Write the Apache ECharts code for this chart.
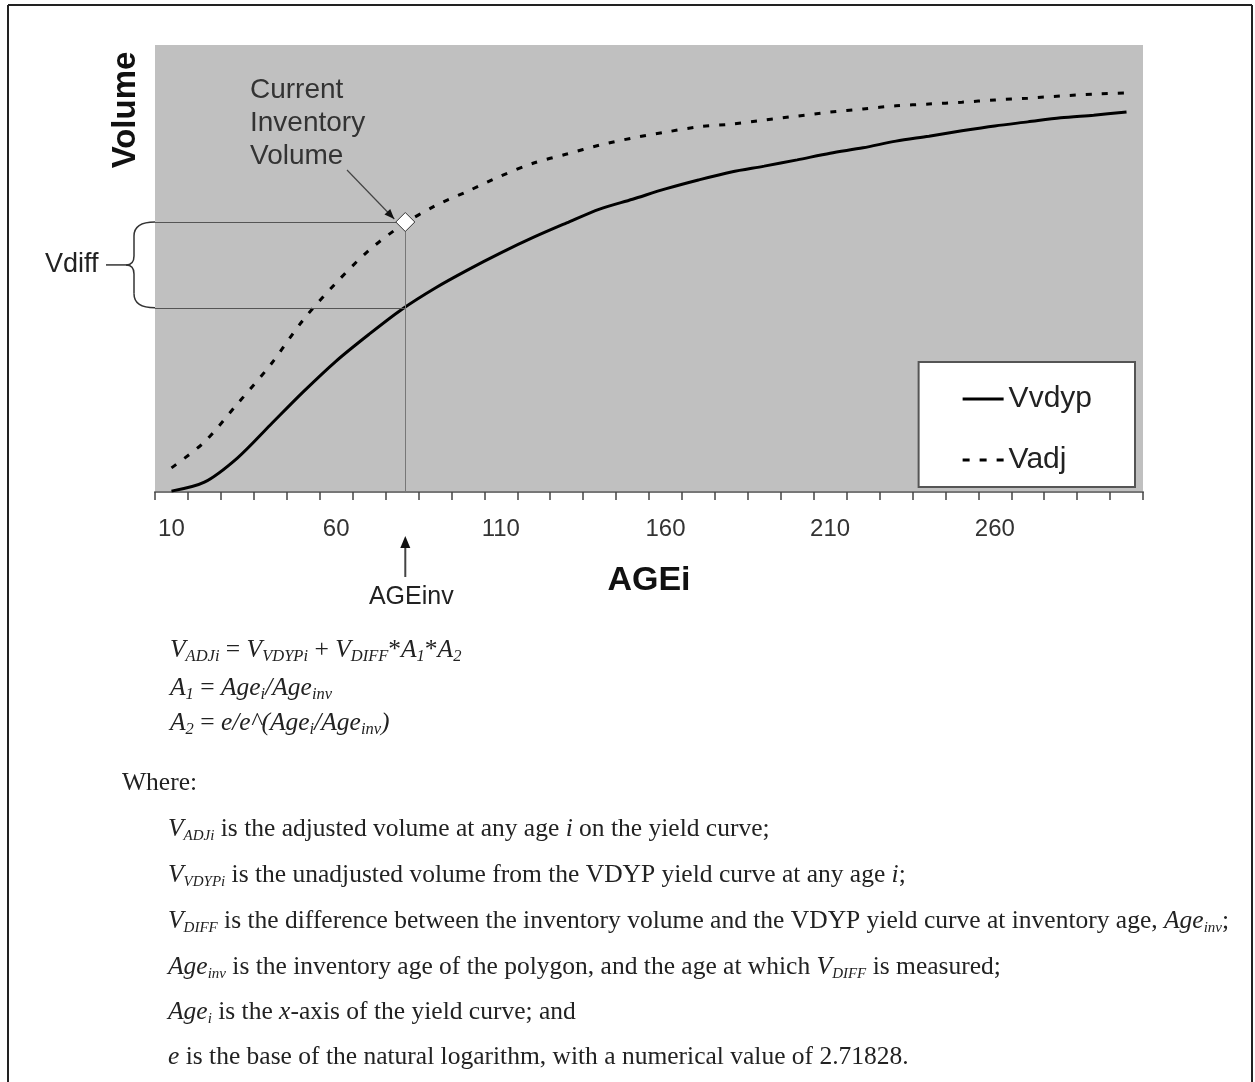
<!DOCTYPE html>
<html>
<head>
<meta charset="utf-8">
<script src="https://cdn.jsdelivr.net/npm/echarts@6/dist/echarts.min.js"></script>
<style>
  html, body { margin: 0; padding: 0; background: #fff; }
  #chart { width: 1255px; height: 1082px; }
</style>
</head>
<body>
<div id="chart"></div>
<script>
// Stand age (years) at which each volume is listed
const ages = [10, 20, 30, 40, 50, 60, 70, 80, 90, 100, 110, 120, 130, 140, 150,
              160, 170, 180, 190, 200, 210, 220, 230, 240, 250, 260, 270, 280, 290, 300];
// Unadjusted VDYP yield curve (relative volume)
const vvdyp = [0.2, 2.2, 7.6, 15.0, 22.4, 29.3, 35.3, 40.9, 45.6, 49.7, 53.5, 57.0, 60.2, 63.3, 65.5,
               67.8, 69.8, 71.6, 72.9, 74.3, 75.8, 77.0, 78.5, 79.6, 80.8, 81.9, 82.8, 83.7, 84.3, 85.0];
// Adjusted yield curve passing through the inventory volume
const vadj = [5.4, 11.2, 19.7, 28.4, 38.5, 46.8, 54.1, 59.7, 64.0, 67.3, 70.7, 73.6, 75.6, 77.6, 79.2,
              80.5, 81.7, 82.3, 83.2, 84.1, 85.0, 85.7, 86.4, 86.8, 87.2, 87.7, 88.1, 88.6, 89.0, 89.3];
// Axis ticks sit between the age classes; labels every fifth class
const tickAges = [5, 15, 25, 35, 45, 55, 65, 75, 85, 95, 105, 115, 125, 135, 145, 155,
                  165, 175, 185, 195, 205, 215, 225, 235, 245, 255, 265, 275, 285, 295, 305];
const labelAges = [10, 60, 110, 160, 210, 260];
// Inventory age and the two volumes read at that age
const invAge = 81;
const invVolume = 60.4;
const vdypAtInv = 41.2;

const SANS = 'Liberation Sans, Arial, sans-serif';
const SERIF = 'Liberation Serif, Times New Roman, serif';

const chart = echarts.init(document.getElementById('chart'), null, { renderer: 'canvas' });

const pairs = (ys) => ages.map((a, i) => [a, ys[i]]);

chart.setOption({
  animation: false,
  backgroundColor: '#ffffff',
  grid: {
    left: 155, right: 112, top: 45, bottom: 590,
    show: true, backgroundColor: '#c0c0c0', borderWidth: 0
  },
  legend: {
    right: 120, top: 362, orient: 'vertical',
    backgroundColor: '#ffffff', borderColor: '#555', borderWidth: 2, borderRadius: 0,
    padding: [22, 43, 12, 44], itemGap: 31,
    itemWidth: 41, itemHeight: 3,
    textStyle: { fontSize: 30, color: '#222', fontFamily: SANS },
    data: [
      { name: 'Vvdyp', icon: 'path://M0,0H42V3H0Z' },
      { name: 'Vadj', icon: 'path://M0,0H7V3H0Z M17,0H24V3H17Z M34,0H41V3H34Z' }
    ]
  },
  xAxis: {
    type: 'value', min: 5, max: 305,
    name: 'AGEi', nameLocation: 'middle', nameGap: 72,
    nameTextStyle: { fontSize: 34, fontWeight: 'bold', color: '#111', fontFamily: SANS },
    axisLine: { show: true, onZero: false, lineStyle: { color: '#777', width: 2 } },
    axisTick: { show: true, customValues: tickAges, length: 8, lineStyle: { color: '#444', width: 1.5 } },
    axisLabel: { customValues: labelAges, fontSize: 24, color: '#333', margin: 25, fontFamily: SANS },
    splitLine: { show: false }
  },
  yAxis: {
    type: 'value', min: 0, max: 100,
    axisLine: { show: false }, axisTick: { show: false },
    axisLabel: { show: false }, splitLine: { show: false }
  },
  series: [
    {
      name: 'Vvdyp', type: 'line', data: pairs(vvdyp),
      symbol: 'none', smooth: 0.3,
      lineStyle: { color: '#000', width: 3 },
      itemStyle: { color: '#000' }
    },
    {
      name: 'Vadj', type: 'line', data: pairs(vadj),
      symbol: 'none', smooth: 0.3,
      lineStyle: { color: '#000', width: 3, type: [6, 10] },
      itemStyle: { color: '#000' },
      markLine: {
        silent: true, symbol: ['none', 'none'], label: { show: false },
        lineStyle: { type: 'solid', color: '#555', width: 1 },
        data: [
          [{ coord: [5, invVolume] }, { coord: [invAge, invVolume] }],
          [{ coord: [5, vdypAtInv] }, { coord: [invAge, vdypAtInv] }],
          [{ coord: [invAge, invVolume], lineStyle: { color: '#777' } }, { coord: [invAge, 0] }]
        ]
      },
      markPoint: {
        silent: true, symbol: 'diamond', symbolSize: [19, 19],
        itemStyle: { color: '#ffffff', borderColor: '#333', borderWidth: 1 },
        label: { show: false },
        data: [{ coord: [invAge, invVolume] }]
      }
    }
  ]
});

// Annotations placed from the data coordinates of the inventory point
const P = (x, y) => chart.convertToPixel({ xAxisIndex: 0, yAxisIndex: 0 }, [x, y]);
const pInv = P(invAge, invVolume);
const pVdyp = P(invAge, vdypAtInv);
const pBase = P(invAge, 0);
const xLeft = P(5, 0)[0];

const txt = (x, y, text, size, extra) => ({
  type: 'text', x: x, y: y, silent: true,
  style: Object.assign({
    text: text, fill: '#222', font: size + 'px ' + SANS,
    align: 'left', verticalAlign: 'middle', textAlign: 'left', textVerticalAlign: 'middle'
  }, extra || {})
});

// Rich-text styles for the formula block (italic symbols and subscripts)
const rich = {
  r: { fontFamily: SERIF, fontSize: 25.5, lineHeight: 30, color: '#222' },
  i: { fontFamily: SERIF, fontSize: 25.5, lineHeight: 30, fontStyle: 'italic', color: '#222' },
  s: { fontFamily: SERIF, fontSize: 15, lineHeight: 15, fontStyle: 'italic', verticalAlign: 'bottom', color: '#222' },
  f: { fontFamily: SERIF, fontSize: 16.5, lineHeight: 16, fontStyle: 'italic', verticalAlign: 'bottom', color: '#222' }
};
const richLine = (x, y, text) => ({
  type: 'text', x: x, y: y, silent: true,
  style: {
    text: text, rich: rich, fill: '#222', font: '25.5px ' + SERIF,
    align: 'left', verticalAlign: 'middle', textAlign: 'left', textVerticalAlign: 'middle'
  }
});

// Curly brace spanning Vdiff, built from curve and line pieces
const yT = pInv[1], yB = pVdyp[1], yM = (yT + yB) / 2;
const bx = xLeft - 21;
const pen = { stroke: '#333', lineWidth: 1.5, fill: null };
const bez = (x1, y1, cx, cy, x2, y2) => ({
  type: 'bezierCurve', silent: true,
  shape: { x1: x1, y1: y1, cpx1: cx, cpy1: cy, x2: x2, y2: y2 }, style: pen
});
const seg = (x1, y1, x2, y2, style) => ({
  type: 'line', silent: true, shape: { x1: x1, y1: y1, x2: x2, y2: y2 }, style: style || pen
});
const brace = [
  bez(xLeft, yT, bx, yT, bx, yT + 14),
  seg(bx, yT + 14, bx, yM - 9),
  bez(bx, yM - 9, bx, yM, bx - 8, yM),
  bez(bx - 8, yM, bx, yM, bx, yM + 9),
  seg(bx, yM + 9, bx, yB - 14),
  bez(bx, yB - 14, bx, yB, xLeft, yB)
];

// Pointer from the label to the inventory point
const ax0 = 347, ay0 = 170;
const ax1 = pInv[0] - 11, ay1 = pInv[1] - 3;
const ang = Math.atan2(ay1 - ay0, ax1 - ax0);
const head = (tx, ty, a, len, half) => [
  [tx, ty],
  [tx - len * Math.cos(a) + half * Math.sin(a), ty - len * Math.sin(a) - half * Math.cos(a)],
  [tx - len * Math.cos(a) - half * Math.sin(a), ty - len * Math.sin(a) + half * Math.cos(a)]
];

const frame = { stroke: '#222', lineWidth: 2 };

const graphics = [
  // page frame
  seg(8, 5, 1252, 5, frame),
  seg(8, 5, 8, 1082, frame),
  seg(1252, 5, 1252, 1082, frame),

  // y axis title
  {
    type: 'text', x: 126, y: 110, rotation: Math.PI / 2, silent: true,
    style: {
      text: 'Volume', fill: '#111', font: 'bold 33px ' + SANS,
      align: 'center', verticalAlign: 'middle', textAlign: 'center', textVerticalAlign: 'middle'
    }
  },

  // inventory volume label and pointer
  txt(250, 123, 'Current\nInventory\nVolume', 28, { fill: '#333', lineHeight: 33 }),
  seg(ax0, ay0, ax1, ay1, { stroke: '#444', lineWidth: 1.2 }),
  { type: 'polygon', silent: true, shape: { points: head(ax1, ay1, ang, 10, 4) }, style: { fill: '#111' } },

  // Vdiff brace
  txt(45, yM, 'Vdiff', 27, { fill: '#222' }),
  seg(106, yM, bx - 8, yM),
  ...brace,

  // AGEinv pointer below the axis
  seg(pBase[0], 577, pBase[0], 545, { stroke: '#444', lineWidth: 2 }),
  { type: 'polygon', silent: true, shape: { points: [[pBase[0], 536], [pBase[0] - 5, 548], [pBase[0] + 5, 548]] }, style: { fill: '#111' } },
  txt(pBase[0] + 6, 597, 'AGEinv', 25, { align: 'center', textAlign: 'center', fill: '#222' }),

  // formula block
  richLine(170, 650, '{i|V}{f|ADJi}{r| = }{i|V}{f|VDYPi}{r| + }{i|V}{f|DIFF}{r|*}{i|A}{f|1}{r|*}{i|A}{f|2}'),
  richLine(170, 688, '{i|A}{f|1}{r| = }{i|Age}{f|i}{i|/Age}{f|inv}'),
  richLine(170, 723, '{i|A}{f|2}{r| = }{i|e/e^(Age}{f|i}{i|/Age}{f|inv}{i|)}'),
  richLine(122, 783, '{r|Where:}'),
  richLine(168, 829, '{i|V}{s|ADJi}{r| is the adjusted volume at any age }{i|i}{r| on the yield curve;}'),
  richLine(168, 875, '{i|V}{s|VDYPi}{r| is the unadjusted volume from the VDYP yield curve at any age }{i|i}{r|;}'),
  richLine(168, 921, '{i|V}{s|DIFF}{r| is the difference between the inventory volume and the VDYP yield curve at inventory age, }{i|Age}{s|inv}{r|;}'),
  richLine(168, 967, '{i|Age}{s|inv}{r| is the inventory age of the polygon, and the age at which }{i|V}{s|DIFF}{r| is measured;}'),
  richLine(168, 1012, '{i|Age}{s|i}{r| is the }{i|x}{r|-axis of the yield curve; and}'),
  richLine(168, 1057, '{i|e}{r| is the base of the natural logarithm, with a numerical value of 2.71828.}')
];

chart.setOption({ graphic: graphics });
</script>
</body>
</html>
